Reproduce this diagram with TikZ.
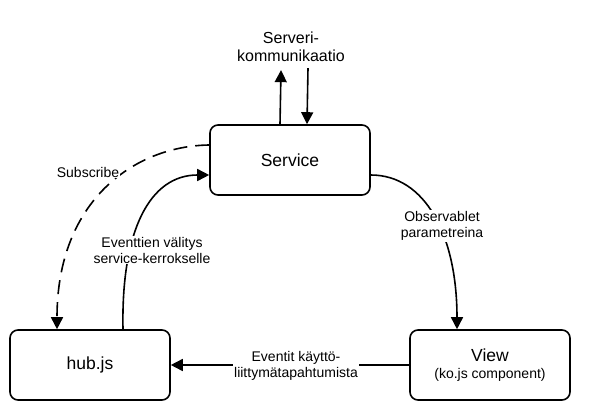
\documentclass[tikz,border=0pt]{standalone}
\usepackage{fontspec}
\setmainfont{Liberation Sans}
\usetikzlibrary{arrows.meta}

\begin{document}
\begin{tikzpicture}[x=1pt,y=-1pt]
	 \tikzstyle{box}=[draw,line width=1.6pt,rounded corners=8pt,minimum width=160pt,minimum height=70pt,inner sep=0pt,align=center,font=\fontsize{17.5}{19}\selectfont]
	 \tikzstyle{label}=[fill=white,align=center,inner sep=1pt,font=\fontsize{14}{16}\selectfont]
	 \tikzstyle{edge}=[draw,line width=1.6pt,-{Triangle[length=12pt,width=12pt]},black]
	 \tikzstyle{dashed edge}=[edge,dash pattern=on 14pt off 8pt]
	 \useasboundingbox (0,0) rectangle (594,420);
	 \node[box] (service) at (290,160) {Service};
	 \node[box] (hub) at (90,365) {hub.js};
	 \node[box] (view) at (490,365) {View\\[-2pt]{\fontsize{14}{16}\selectfont (ko.js component)}};
	 \node[align=center,font=\fontsize{16}{17.5}\selectfont] (server) at (291,47) {Serveri-\\kommunikaatio};
	 \draw[edge] ([xshift=-10pt]service.north) -- ([xshift=-10pt,yshift=-5pt]server.south);
	 \draw[edge] ([xshift=17pt,yshift=-3pt]server.south) -- ([xshift=17pt]service.north);
	 \draw[dashed edge] ([yshift=15pt]service.west) .. controls (135,146) and (57,200) .. ([xshift=-33pt]hub.north);
	 \node[label] (subscribe) at (88,172) {Subscribe};
	 \draw[edge] ([xshift=33pt]hub.north) .. controls (121,230) and (150,175) .. ([yshift=-15pt]service.west);
	 \node[label] (relay) at (152,250) {Eventtien välitys\\service-kerrokselle};
	 \draw[edge] ([yshift=-15pt]service.east) .. controls (425,175) and (457,235) .. ([xshift=-33pt]view.north);
	 \node[label] (observables) at (442,226) {Observablet\\parametreina};
	 \draw[edge] (view.west) -- (hub.east);
	 \node[label] (uievents) at (296,366) {Eventit käyttö-\\liittymätapahtumista};
\end{tikzpicture}
\end{document}
